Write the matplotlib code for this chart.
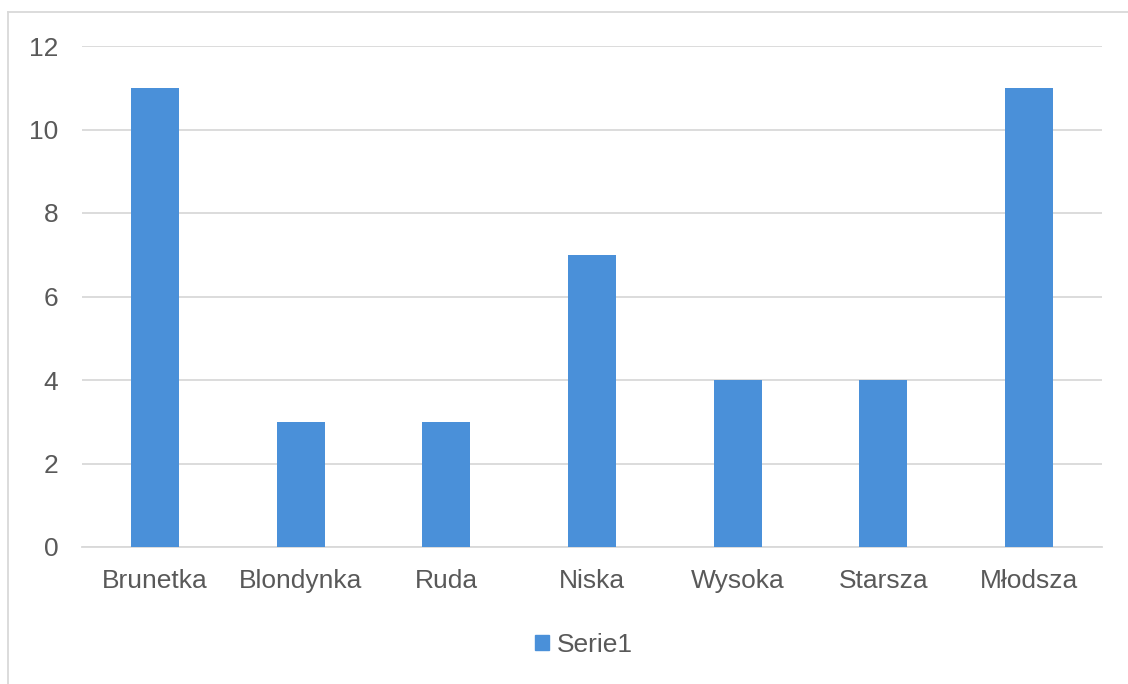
import matplotlib
matplotlib.use("Agg")
import matplotlib.pyplot as plt
from matplotlib.lines import Line2D
from matplotlib.patches import Patch

categories = ["Brunetka", "Blondynka", "Ruda", "Niska", "Wysoka", "Starsza", "Młodsza"]
values = [11, 3, 3, 7, 4, 4, 11]
yticks = [0, 2, 4, 6, 8, 10, 12]
series_name = "Serie1"

W, H = 1128, 684
fig = plt.figure(figsize=(W / 100, H / 100), dpi=100)
plt.rcParams['font.family'] = ['Liberation Sans', 'DejaVu Sans']

FS = 19
ax = fig.add_axes([82 / W, 1 - 547 / H, (1102 - 82) / W, (547 - 46) / H])
bar_color = "#4a90d9"
x = list(range(len(categories)))
ax.bar(x, values, width=0.33, color=bar_color, zorder=3)
ax.set_xlim(-0.5, len(categories) - 0.5)
ax.set_ylim(0, 12)
ax.set_yticks(yticks)
ax.set_xticks(x)
ax.set_xticklabels(categories)
ax.grid(axis="y", color="#d9d9d9", linewidth=1.3, zorder=0)
for s in ["top", "right", "left"]:
    ax.spines[s].set_visible(False)
ax.spines["bottom"].set_color("#d9d9d9")
ax.spines["bottom"].set_linewidth(1.3)
ax.tick_params(axis="both", length=0, labelsize=FS, colors="#595959")
ax.tick_params(axis="x", pad=16)
ax.tick_params(axis="y", pad=17)

# legend
leg = fig.legend(handles=[Patch(color=bar_color, label=series_name)],
                 loc="center", bbox_to_anchor=(584 / W, 1 - 645 / H),
                 frameon=False, fontsize=FS, handlelength=0.52, handleheight=0.52,
                 handletextpad=0.3, labelcolor="#595959")

# chart border
fig.add_artist(Line2D([8 / W, 8 / W], [0, 1 - 12 / H], transform=fig.transFigure,
                      color="#d9d9d9", linewidth=1.3))
fig.add_artist(Line2D([8 / W, 1], [1 - 12 / H, 1 - 12 / H], transform=fig.transFigure,
                      color="#d9d9d9", linewidth=1.3))

fig.savefig("out.png", dpi=100)
